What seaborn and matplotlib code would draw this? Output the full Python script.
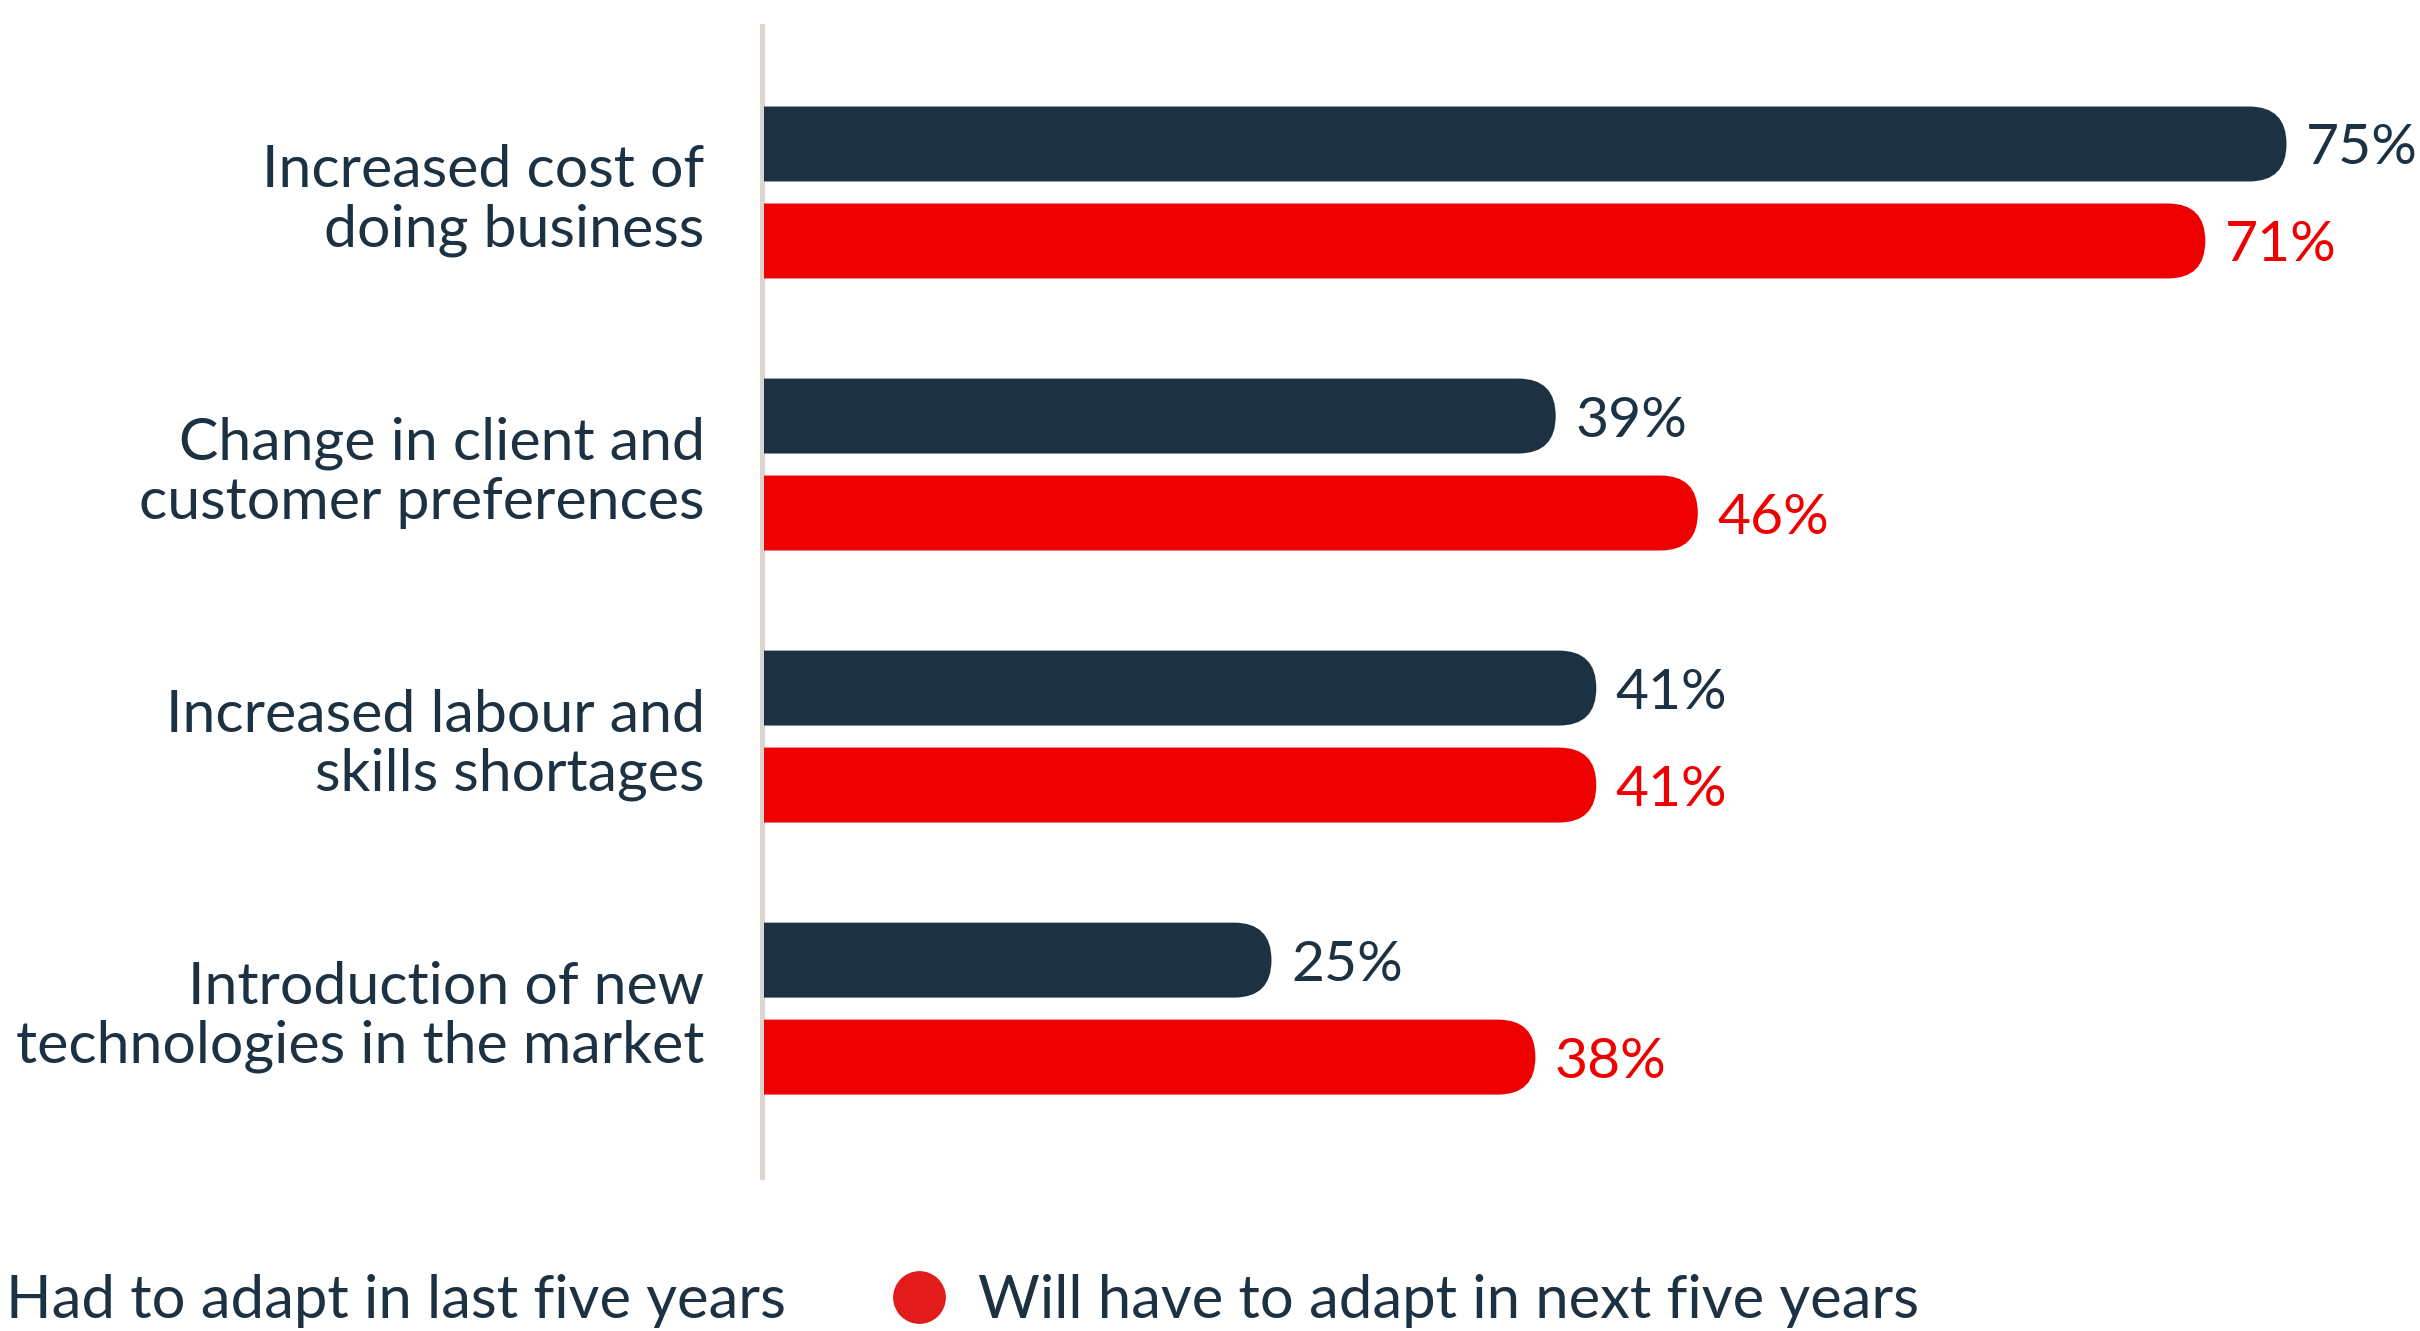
import matplotlib
matplotlib.use("Agg")
import matplotlib.pyplot as plt
from matplotlib.patches import FancyBboxPatch
from matplotlib.lines import Line2D
import pandas as pd
import seaborn as sns

# ---- data ----
categories = [
    "Increased cost of\ndoing business",
    "Change in client and\ncustomer preferences",
    "Increased labour and\nskills shortages",
    "Introduction of new\ntechnologies in the market",
]
series_names = ["Had to adapt in last five years", "Will have to adapt in next five years"]
last_five_years = [75, 39, 41, 25]
next_five_years = [71, 46, 41, 38]

DARK = "#1c3142"
RED = "#ee0000"
DOT_RED = "#e21b1b"
SPINE = "#ddd6d0"

df = pd.DataFrame({
    "category": categories * 2,
    "series": [series_names[0]] * len(categories) + [series_names[1]] * len(categories),
    "value": last_five_years + next_five_years,
})

sns.set_theme(style="white")
plt.rcParams["font.family"] = ["Lato", "DejaVu Sans"]

W, H = 2420, 1331
fig = plt.figure(figsize=(W / 100, H / 100), dpi=100)
ax_left, ax_right, ax_top, ax_bottom = 764, 2420, 26, 1177
ax = fig.add_axes([ax_left / W, 1 - ax_bottom / H, (ax_right - ax_left) / W, (ax_bottom - ax_top) / H])

sns.barplot(
    data=df, y="category", x="value", hue="series", orient="h",
    order=categories, hue_order=series_names,
    palette={series_names[0]: DARK, series_names[1]: RED},
    width=0.713, gap=0.227, saturation=1, legend=False, ax=ax,
)

ax.set_xlim(0, (ax_right - ax_left) / 20.3)
ax.set_ylim(3.619, -0.612)

# replace square bar ends with rounded (pill) right ends
fig.canvas.draw()
px_x = ax.transData.transform((1, 0))[0] - ax.transData.transform((0, 0))[0]
px_y = abs(ax.transData.transform((0, 1))[1] - ax.transData.transform((0, 0))[1])
for container in ax.containers:
    for bar in container:
        x, y = bar.get_x(), bar.get_y()
        w, h = bar.get_width(), bar.get_height()
        r_px = h * px_y / 2
        rx = r_px / px_x
        ry = r_px / px_y
        pill = FancyBboxPatch(
            (x - rx, y), w + rx, h,
            boxstyle=f"round,pad=0,rounding_size={rx}",
            mutation_aspect=ry / rx,
            facecolor=bar.get_facecolor(), edgecolor="none", zorder=2,
        )
        ax.add_patch(pill)
        bar.set_visible(False)

# value labels
for container, color in zip(ax.containers, [DARK, RED]):
    texts = ax.bar_label(
        container, labels=[f"{int(v)}%" for v in container.datavalues],
        padding=14, color=color, fontsize=41,
    )
    for t in texts:
        t.set_verticalalignment("center_baseline")

# axes styling
for side in ["top", "right", "bottom"]:
    ax.spines[side].set_visible(False)
ax.spines["left"].set_color(SPINE)
ax.spines["left"].set_linewidth(3.6)
ax.spines["left"].set_position(("outward", 1.8))
ax.spines["left"].set_zorder(1)
ax.set_xticks([])
ax.set_xlabel("")
ax.set_ylabel("")
ax.tick_params(axis="y", length=0, pad=41, labelsize=42.5, labelcolor=DARK)
for lbl in ax.get_yticklabels():
    lbl.set_linespacing(1.14)

# legend
handles = [
    Line2D([], [], marker="o", linestyle="none", markersize=38, markerfacecolor=DARK, markeredgecolor="none"),
    Line2D([], [], marker="o", linestyle="none", markersize=38, markerfacecolor=DOT_RED, markeredgecolor="none"),
]
fig.legend(
    handles, series_names, ncol=2, loc="lower left",
    bbox_to_anchor=(-83 / W, 0.002), frameon=False, fontsize=43,
    handlelength=1.0, handletextpad=0.49, columnspacing=1.72,
    borderpad=0, borderaxespad=0, labelcolor=DARK,
)

fig.savefig("out.png", dpi=100, facecolor="white")
